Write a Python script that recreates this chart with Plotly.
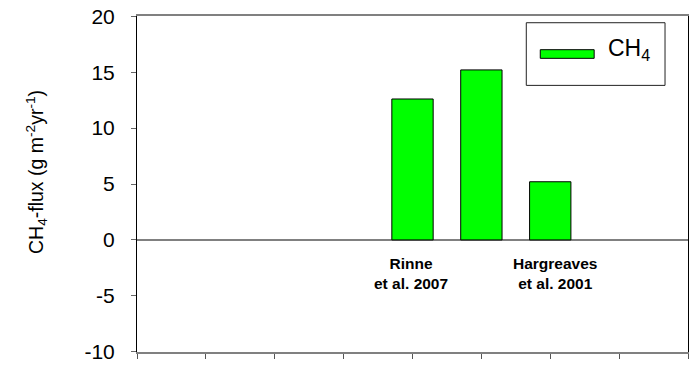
import plotly.graph_objects as go

# Data
site_pos = [4, 5, 6]
ch4_flux = [12.6, 15.2, 5.2]
site_labels = ["Rinne<br>et al. 2007", "", "Hargreaves<br>et al. 2001"]
y_ticks = [-10, -5, 0, 5, 10, 15, 20]
y_ticktext = ["-10", "-5", "0", "5", "10", "15", "20"]
x_ticks = [0, 1, 2, 3, 4, 5, 6, 7, 8]

FONT = "Liberation Sans, Arial, sans-serif"

fig = go.Figure()
fig.add_trace(go.Bar(
    x=site_pos, y=ch4_flux, width=0.6,
    marker=dict(color="#00ff00", line=dict(color="black", width=1)),
    showlegend=False, name="CH4",
))

# site labels below the zero line
label_shift = [-2, 0, 5]
for xp, lab, sh in zip(site_pos, site_labels, label_shift):
    if lab:
        fig.add_annotation(x=xp, y=-1.2, xref="x", yref="y", text="<b>" + lab + "</b>",
                           showarrow=False, yanchor="top", xanchor="center",
                           xshift=sh, align="center",
                           font=dict(family=FONT, size=15.5, color="black"))

# y axis title
fig.add_annotation(x=0, y=0.5, xref="paper", yref="paper",
                   text="CH<sub>4</sub>-flux (g m<sup>-2</sup>yr<sup>-1</sup>)",
                   textangle=-90, showarrow=False, xanchor="center", yanchor="middle",
                   xshift=-101, yshift=12,
                   font=dict(family=FONT, size=19.5, color="black"))

# manual legend
fig.add_shape(type="rect", xref="paper", yref="paper",
              x0=0.7065, x1=0.9583, y0=0.7935, y1=0.980,
              line=dict(color="#222222", width=1), fillcolor="white", layer="above")
fig.add_shape(type="rect", xref="paper", yref="paper",
              x0=0.7319, x1=0.8297, y0=0.874, y1=0.8997,
              line=dict(color="black", width=1), fillcolor="#00ff00", layer="above")
fig.add_annotation(x=0.852, y=0.900, xref="paper", yref="paper",
                   text="CH<sub>4</sub>", showarrow=False,
                   xanchor="left", yanchor="middle",
                   font=dict(family=FONT, size=23, color="black"))

fig.update_layout(
    width=692, height=366,
    margin=dict(l=137, r=3, t=16, b=11),
    paper_bgcolor="white", plot_bgcolor="white",
    bargap=0.4,
)
fig.update_xaxes(
    range=[0, 8], tickvals=x_ticks, showticklabels=False,
    ticks="outside", ticklen=5, tickcolor="#555555", tickwidth=1,
    showline=True, linecolor="#808080", linewidth=2, mirror=True,
    showgrid=False, zeroline=False,
)
fig.update_yaxes(
    range=[-10.02, 20.02], tickvals=y_ticks, ticktext=y_ticktext,
    ticks="outside", ticklen=5, tickcolor="#666666", tickwidth=1,
    showline=True, linecolor="black", linewidth=1, mirror=True,
    showgrid=False, zeroline=True, zerolinecolor="#808080", zerolinewidth=2,
    tickfont=dict(family=FONT, size=21, color="black"),
    ticklabelstandoff=12, ticklabeloverflow="allow",
)

fig.write_html("out.html")
